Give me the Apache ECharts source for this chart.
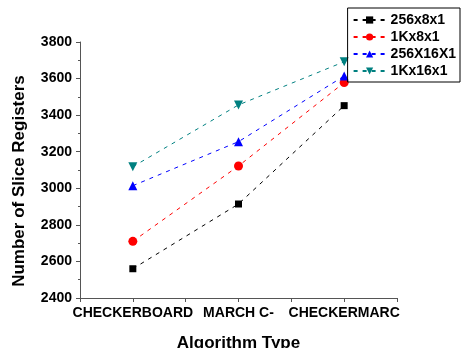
<!DOCTYPE html>
<html>
<head>
<meta charset="utf-8">
<script src="https://cdn.jsdelivr.net/npm/echarts@6/dist/echarts.min.js"></script>
<style>
  html, body { margin: 0; padding: 0; background: #fff; }
  .chart { width: 462px; height: 348px; }
</style>
</head>
<body>
<div class="chart"></div>
<script>
const categories = ['CHECKERBOARD', 'MARCH C-', 'CHECKERMARC'];
const xPos = [1, 2, 3];
const s256x8 = [2560, 2914, 3452];
const s1Kx8 = [2710, 3122, 3578];
const s256x16 = [3014, 3255, 3614];
const s1Kx16 = [3118, 3456, 3692];
const yTicks = [2400, 2600, 2800, 3000, 3200, 3400, 3600, 3800];

~function () {
  let myChart = echarts.init(document.querySelector('.chart'));
  let font = '"Liberation Sans", Arial, sans-serif';
  let pts = vals => vals.map((v, i) => [xPos[i], v]);
  let mk = (name, vals, color, symbol, rot) => ({
    name: name,
    type: 'line',
    data: pts(vals),
    symbol: symbol,
    symbolSize: symbol === 'rect' ? 7 : 9,
    symbolRotate: rot || 0,
    itemStyle: { color: color },
    lineStyle: { color: color, width: 1, type: [4, 5] }
  });
  let option = {
    animation: false,
    grid: { left: 80, right: 65, top: 42, bottom: 50, outerBoundsMode: 'none' },
    legend: {
      orient: 'vertical',
      right: 2,
      top: 8,
      padding: [5, 4, 4, 5],
      itemGap: 3,
      itemWidth: 32,
      itemHeight: 9,
      borderColor: '#000',
      borderWidth: 1,
      textStyle: { fontFamily: font, fontWeight: 'bold', fontSize: 14, color: '#000' },
      data: ['256x8x1', '1Kx8x1', '256X16X1', '1Kx16x1']
    },
    xAxis: {
      type: 'value',
      min: 0.5,
      max: 3.5,
      interval: 0.5,
      name: 'Algorithm Type',
      nameLocation: 'middle',
      nameGap: 37,
      nameTextStyle: { fontFamily: font, fontWeight: 'bold', fontSize: 17, color: '#000' },
      splitLine: { show: false },
      axisLine: { lineStyle: { color: '#555' } },
      axisTick: { lineStyle: { color: '#555' }, length: 4 },
      axisLabel: {
        fontFamily: font, fontWeight: 'bold', fontSize: 14, color: '#000', margin: 8,
        showMinLabel: true, showMaxLabel: true,
        formatter: v => Number.isInteger(v) ? categories[v - 1] : ''
      }
    },
    yAxis: {
      type: 'value',
      min: yTicks[0],
      max: yTicks[yTicks.length - 1],
      interval: 200,
      name: 'Number of Slice Registers',
      nameLocation: 'middle',
      nameGap: 52,
      nameTextStyle: {
        fontFamily: font, fontWeight: 'bold', fontSize: 17, color: '#000',
        padding: [0, 22, 0, 0]
      },
      splitLine: { show: false },
      axisLine: { show: true, lineStyle: { color: '#555' } },
      axisTick: { show: true, lineStyle: { color: '#555' }, length: 4 },
      minorTick: { show: true, splitNumber: 2, length: 2, lineStyle: { color: '#555' } },
      axisLabel: {
        fontFamily: font, fontWeight: 'bold', fontSize: 14, color: '#000', margin: 8,
        formatter: v => String(v)
      }
    },
    series: [
      mk('256x8x1', s256x8, '#000000', 'rect'),
      mk('1Kx8x1', s1Kx8, '#ff0000', 'circle'),
      mk('256X16X1', s256x16, '#0000ff', 'triangle'),
      mk('1Kx16x1', s1Kx16, '#008080', 'triangle', 180)
    ]
  };
  myChart.setOption(option);
}();
</script>
</body>
</html>
